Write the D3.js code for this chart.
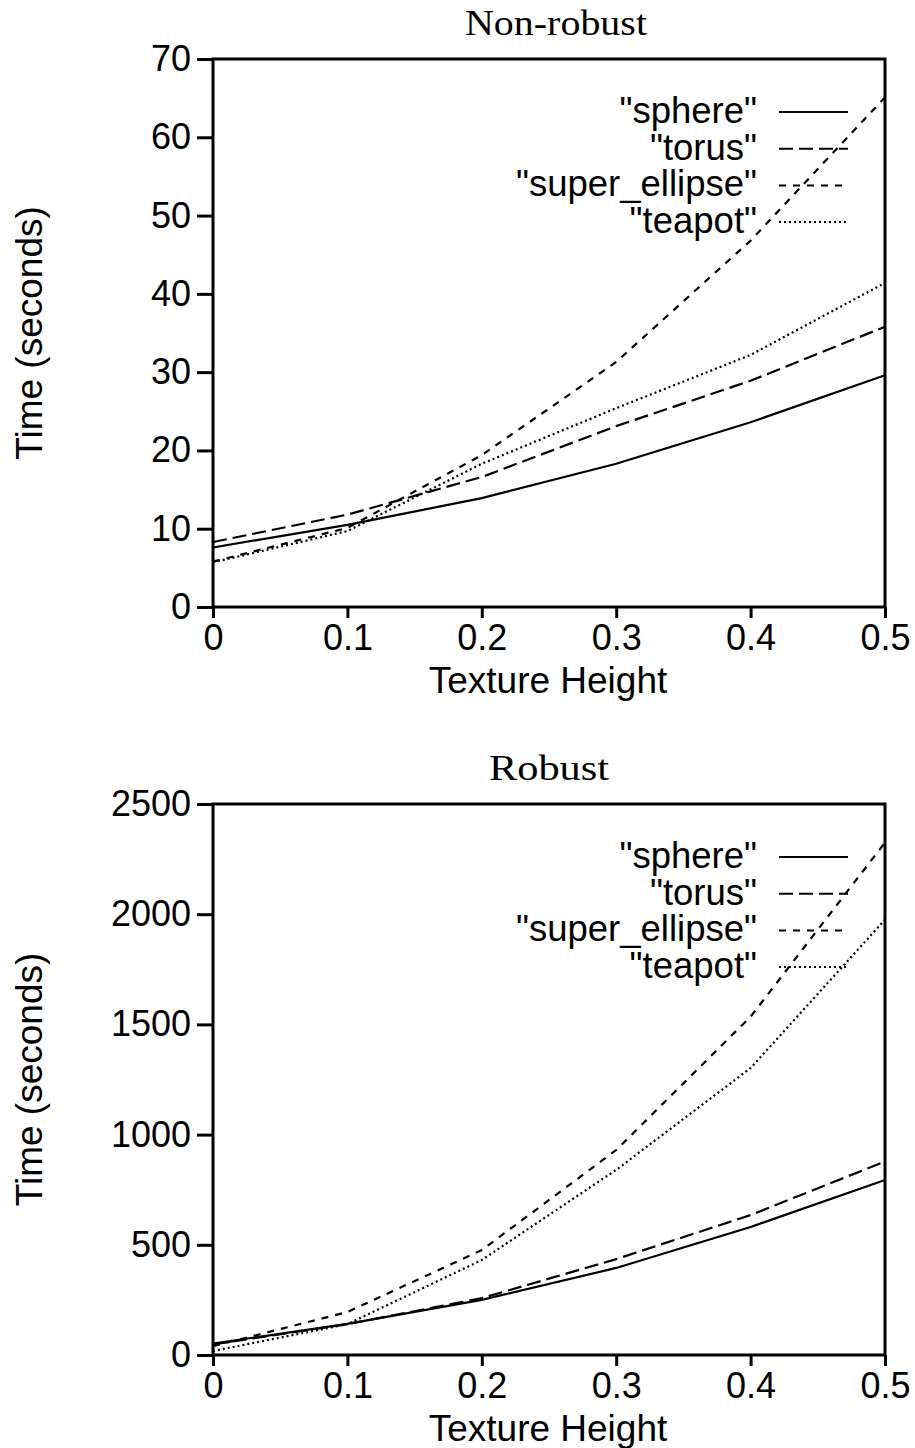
<!DOCTYPE html>
<html><head><meta charset="utf-8">
<script src="https://cdn.jsdelivr.net/npm/d3@7"></script>
<style>body{margin:0;background:#fff}svg{display:block}</style>
</head><body>
<script>
const textureHeights = [0, 0.1, 0.2, 0.3, 0.4, 0.5];
const seriesNames = ['"sphere"', '"torus"', '"super_ellipse"', '"teapot"'];
// Non-robust (seconds)
const nonRobustSphere = [7.6, 10.5, 13.9, 18.3, 23.6, 29.6];
const nonRobustTorus = [8.3, 11.8, 16.6, 23.1, 28.9, 35.8];
const nonRobustSuperEllipse = [5.8, 10.1, 19.4, 31.3, 46.8, 65.1];
const nonRobustTeapot = [5.7, 9.7, 18.3, 25.4, 32.2, 41.4];
// Robust (seconds)
const robustSphere = [52, 141, 250, 395, 581, 794];
const robustTorus = [48, 140, 258, 435, 635, 878];
const robustSuperEllipse = [40, 195, 476, 930, 1535, 2325];
const robustTeapot = [18, 140, 431, 840, 1302, 1975];
const xTicks = [0, 0.1, 0.2, 0.3, 0.4, 0.5];
const nonRobustYTicks = [0, 10, 20, 30, 40, 50, 60, 70];
const robustYTicks = [0, 500, 1000, 1500, 2000, 2500];

const dashes = [null, "14,6", "7,7", "2,3"];
const sans = "'Liberation Sans', Arial, Helvetica, sans-serif";
const serif = "'Liberation Serif', 'DejaVu Serif', serif";

const W = 915, H = 1448;
const svg = d3.select("body").append("svg").attr("width", W).attr("height", H);

function panel(cfg) {
  const g = svg.append("g");
  const x = d3.scaleLinear().domain([0, 0.5]).range([213, 885]);
  const y = d3.scaleLinear().domain([0, cfg.ymax]).range([cfg.bottom, cfg.top]);

  const line = d3.line().x((d, i) => x(textureHeights[i])).y(d => y(d));
  cfg.series.forEach((s, k) => {
    g.append("path").datum(s).attr("d", line)
      .attr("fill", "none").attr("stroke", "#000").attr("stroke-width", 2.2)
      .attr("stroke-dasharray", dashes[k]);
  });

  g.append("rect").attr("x", 213).attr("y", cfg.top)
    .attr("width", 672).attr("height", cfg.bottom - cfg.top)
    .attr("fill", "none").attr("stroke", "#000").attr("stroke-width", 3);

  const xa = g.append("g").attr("transform", `translate(0,${cfg.bottom})`)
    .call(d3.axisBottom(x).tickValues(xTicks).tickFormat(d => d === 0 ? "0" : d3.format(".1f")(d)).tickSize(11).tickPadding(6));
  const ya = g.append("g").attr("transform", "translate(213,0)")
    .call(d3.axisLeft(y).tickValues(cfg.yticks).tickFormat(d3.format("d")).tickSize(16).tickPadding(6));
  [xa, ya].forEach(a => {
    a.select(".domain").remove();
    a.selectAll("line").attr("stroke", "#000").attr("stroke-width", 3);
    a.selectAll("text").attr("font-family", sans).attr("font-size", 36).attr("fill", "#000");
  });

  g.append("text").attr("x", cfg.titleX).attr("y", cfg.top - 24).attr("text-anchor", "middle")
    .attr("font-family", serif).attr("font-size", 35)
    .attr("textLength", cfg.titleLen).attr("lengthAdjust", "spacingAndGlyphs").text(cfg.title);
  g.append("text").attr("x", 548).attr("y", cfg.bottom + 86).attr("text-anchor", "middle")
    .attr("font-family", sans).attr("font-size", 37).text("Texture Height");
  const cy = (cfg.top + cfg.bottom) / 2;
  g.append("text").attr("transform", `translate(42,${cy}) rotate(-90)`).attr("text-anchor", "middle")
    .attr("font-family", sans).attr("font-size", 37).text("Time (seconds)");

  seriesNames.forEach((n, k) => {
    const ly = cfg.legendTop + k * 36.7;
    g.append("text").attr("x", 757).attr("y", ly + 11).attr("text-anchor", "end")
      .attr("font-family", sans).attr("font-size", 36.5).text(n);
    g.append("line").attr("x1", 779).attr("x2", 848).attr("y1", ly).attr("y2", ly)
      .attr("stroke", "#000").attr("stroke-width", 2).attr("stroke-dasharray", dashes[k]);
  });
}

panel({title: "Non-robust", titleX: 556, titleLen: 182, top: 59, bottom: 607, ymax: 70, yticks: nonRobustYTicks,
  series: [nonRobustSphere, nonRobustTorus, nonRobustSuperEllipse, nonRobustTeapot], legendTop: 112});
panel({title: "Robust", titleX: 549, titleLen: 120, top: 804, bottom: 1355, ymax: 2500, yticks: robustYTicks,
  series: [robustSphere, robustTorus, robustSuperEllipse, robustTeapot], legendTop: 857});
</script>
</body></html>
